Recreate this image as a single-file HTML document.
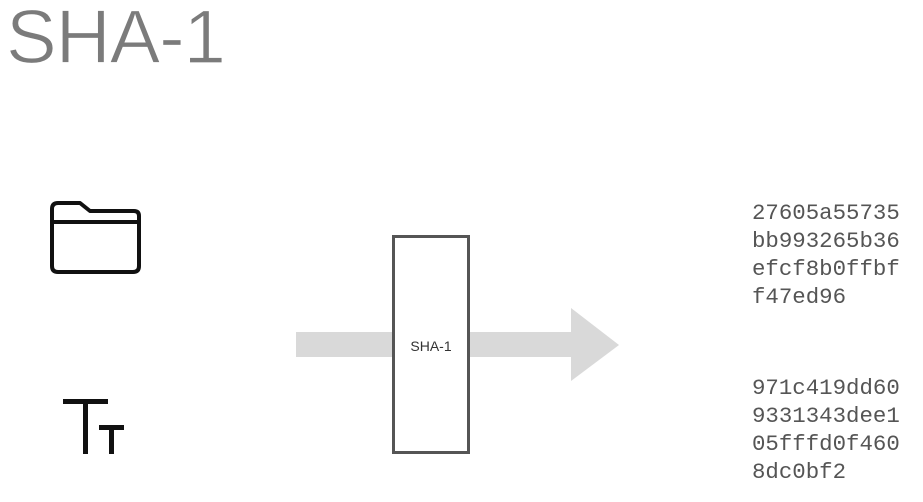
<!DOCTYPE html>
<html><head><meta charset="utf-8"><style>
html,body{margin:0;padding:0;background:#fff;width:923px;height:502px;overflow:hidden}
.t{position:absolute;left:6px;top:-6px;font:76px "Liberation Sans",sans-serif;color:#7b7b7b;letter-spacing:-1px;-webkit-text-stroke:1.2px #fff}
.hex{position:absolute;left:752px;font:22.4px/28px "Liberation Mono",monospace;color:#555;white-space:pre}
</style></head><body>
<div class="t">SHA-1</div>
<svg width="923" height="502" style="position:absolute;left:0;top:0">
  <g fill="none" stroke="#111" stroke-width="4" stroke-linejoin="round">
    <path d="M58 203 H80 L90 211 H134 Q139 211 139 216 V266 Q139 272 133 272 H58 Q52 272 52 266 V209 Q52 203 58 203 Z"/>
    <line x1="53" y1="222" x2="138" y2="222"/>
  </g>
  <g fill="#111">
    <rect x="63" y="399" width="45" height="5"/>
    <rect x="83" y="399" width="5" height="55"/>
    <rect x="99" y="425" width="25" height="5"/>
    <rect x="109" y="425" width="5" height="29"/>
  </g>
  <g fill="#d9d9d9">
    <rect x="296" y="332" width="276" height="25"/>
    <polygon points="571,308 619,345 571,381"/>
  </g>
  <rect x="393.5" y="236.5" width="75" height="216" fill="#fff" stroke="#555" stroke-width="3"/>
  <text x="431" y="351" text-anchor="middle" font-family="Liberation Sans,sans-serif" font-size="14" fill="#333">SHA-1</text>
</svg>
<div class="hex" style="top:199px">27605a55735
bb993265b36
efcf8b0ffbf
f47ed96</div>
<div class="hex" style="top:374px">971c419dd60
9331343dee1
05fffd0f460
8dc0bf2</div>
</body></html>
